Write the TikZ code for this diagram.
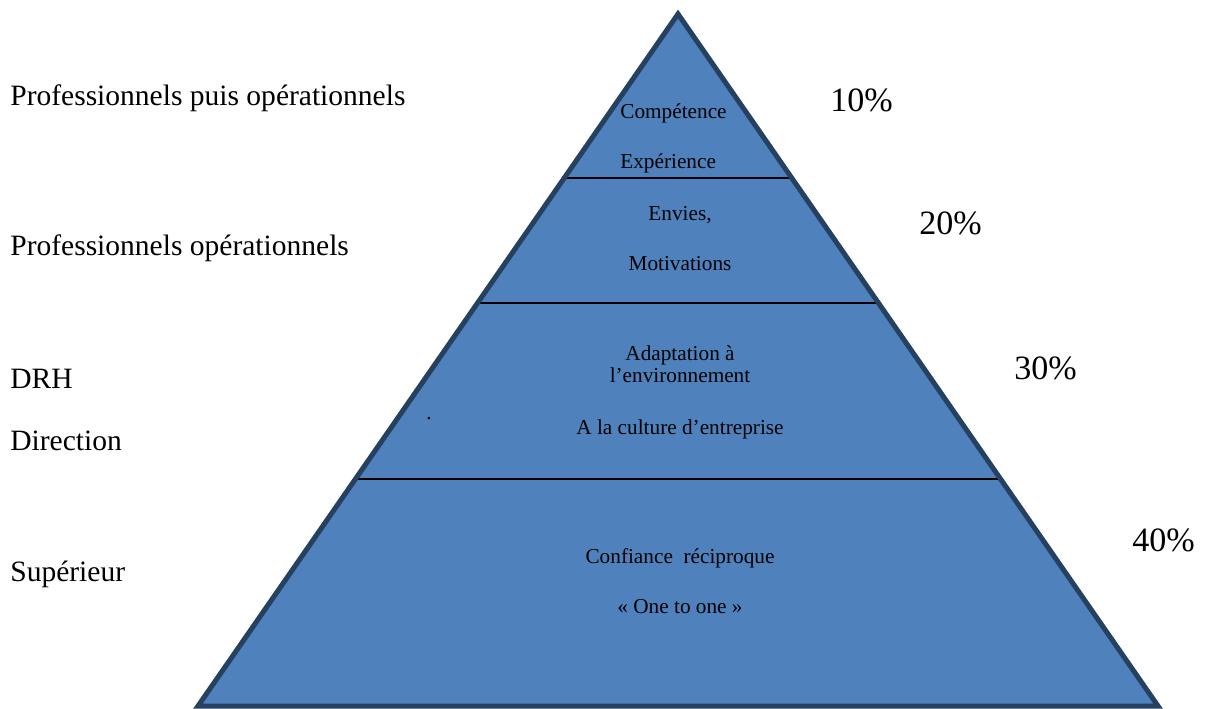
\documentclass[tikz,border=0pt]{standalone}
\usepackage{fontspec}
\setmainfont{Liberation Serif}
\usetikzlibrary{calc}
\definecolor{pyrfill}{RGB}{79,129,189}
\definecolor{pyrline}{RGB}{38,64,96}
\begin{document}
\begin{tikzpicture}[x=0.02cm, y=-0.02cm,
    inner/.style={inner sep=0pt, anchor=base, font=\fontsize{12.1}{14}\selectfont},
    side/.style={inner sep=0pt, anchor=base west, font=\fontsize{16.8}{20}\selectfont},
    pct/.style={inner sep=0pt, anchor=base west, font=\fontsize{19.4}{23}\selectfont},
    sep/.style={black, line width=1.1pt}]
    \useasboundingbox (0,0) rectangle (1206,709);
    % pyramid corners
    \coordinate (apex) at (678,14);
    \coordinate (baseL) at (198,706);
    \coordinate (baseR) at (1158,706);
    \fill[pyrfill] (apex) -- (baseR) -- (baseL) -- cycle;
    % level separators
    \draw[sep] ($(apex)!0.237!(baseL)$) -- ($(apex)!0.237!(baseR)$);
    \draw[sep] ($(apex)!0.4176!(baseL)$) -- ($(apex)!0.4176!(baseR)$);
    \draw[sep] ($(apex)!0.672!(baseL)$) -- ($(apex)!0.672!(baseR)$);
    \draw[pyrline, line width=2.85pt, line join=miter] (apex) -- (baseR) -- (baseL) -- cycle;
    % texts inside the levels
    \node[inner, anchor=base west] (comp) at (620,119) {Compétence};
    \node[inner, anchor=base west] (exp) at (620,169) {Expérience};
    \node[inner] (envies) at (680,221) {Envies,};
    \node[inner] (motiv) at (680,271) {Motivations};
    \node[inner] (adapt) at (680,360) {Adaptation à};
    \node[inner] (envir) at (680,382) {l’environnement};
    \node[inner] (culture) at (680,434) {A la culture d’entreprise};
    \node[inner] (dot) at (429,419) {.};
    \node[inner] (confiance) at (680,563) {Confiance\ \ réciproque};
    \node[inner] (onetoone) at (680,613) {« One to one »};
    % actors on the left
    \node[side] (profpuis) at (10,106) {Professionnels puis opérationnels};
    \node[side] (profop) at (10,256) {Professionnels opérationnels};
    \node[side] (drh) at (10,388) {DRH};
    \node[side] (direction) at (10,450) {Direction};
    \node[side] (sup) at (10,581) {Supérieur};
    % shares on the right
    \node[pct] (p10) at (830,112) {10\%};
    \node[pct] (p20) at (919,235) {20\%};
    \node[pct] (p30) at (1014,379) {30\%};
    \node[pct] (p40) at (1132,551) {40\%};
\end{tikzpicture}
\end{document}
